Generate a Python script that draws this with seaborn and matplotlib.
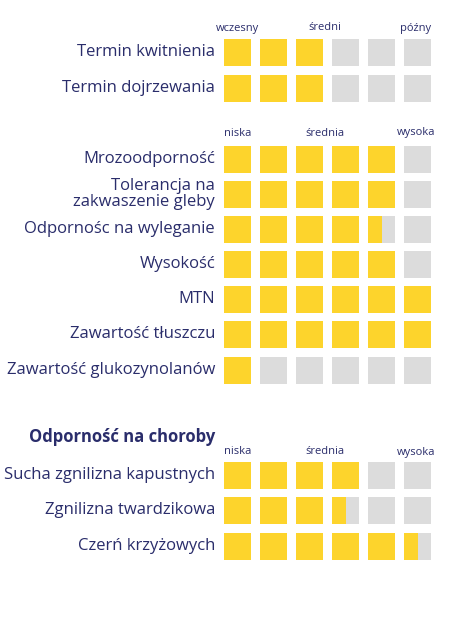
import matplotlib
matplotlib.use("Agg")
import matplotlib.pyplot as plt
import seaborn as sns

sns.set_style("white")
plt.rcParams['font.family'] = ['Open Sans', 'DejaVu Sans']

labels = ["Termin kwitnienia", "Termin dojrzewania", "Mrozoodporność",
          "Tolerancja na\nzakwaszenie gleby", "Odpornośc na wyleganie", "Wysokość", "MTN",
          "Zawartość tłuszczu", "Zawartość glukozynolanów",
          "Sucha zgnilizna kapustnych", "Zgnilizna twardzikowa", "Czerń krzyżowych"]
values = [3, 3, 5, 5, 4.5, 5, 6, 6, 1, 4, 3.5, 5.5]
row_y = [52, 88, 159, 194, 229, 264, 299, 334, 370, 475, 510, 546]
scale_labels = [["wczesny", "średni", "późny"], ["niska", "średnia", "wysoka"], ["niska", "średnia", "wysoka"]]
scale_y = [28, 133, 452]
title = "Odporność na choroby"

YEL, GRY, NAVY = "#fdd42c", "#dcdcdc", "#2a2d6b"
fig = plt.figure(figsize=(4.5, 6.39), dpi=100)
ax = fig.add_axes([0, 0, 1, 1])
ax.set_xlim(0, 450); ax.set_ylim(639, 0); ax.axis("off")

x0, pitch, size = 224, 36, 27
for lab, v, y in zip(labels, values, row_y):
    for i in range(6):
        ax.barh(y, size, left=x0 + pitch * i, height=size, color=GRY, linewidth=0)
        f = min(1, max(0, v - i))
        if f > 0:
            ax.barh(y, size * f, left=x0 + pitch * i, height=size, color=YEL, linewidth=0)
    ax.text(215, y, lab, ha="right", va="center", fontsize=12, color=NAVY, linespacing=0.95)

for labs, y in zip(scale_labels, scale_y):
    for lab, x in zip(labs, [238, 325, 416]):
        ax.text(x, y, lab, ha="center", va="center", fontsize=8, color=NAVY)

ax.text(215, 437, title, ha="right", va="center", fontsize=12, color=NAVY, fontweight="bold")
fig.savefig("out.png", dpi=100)
